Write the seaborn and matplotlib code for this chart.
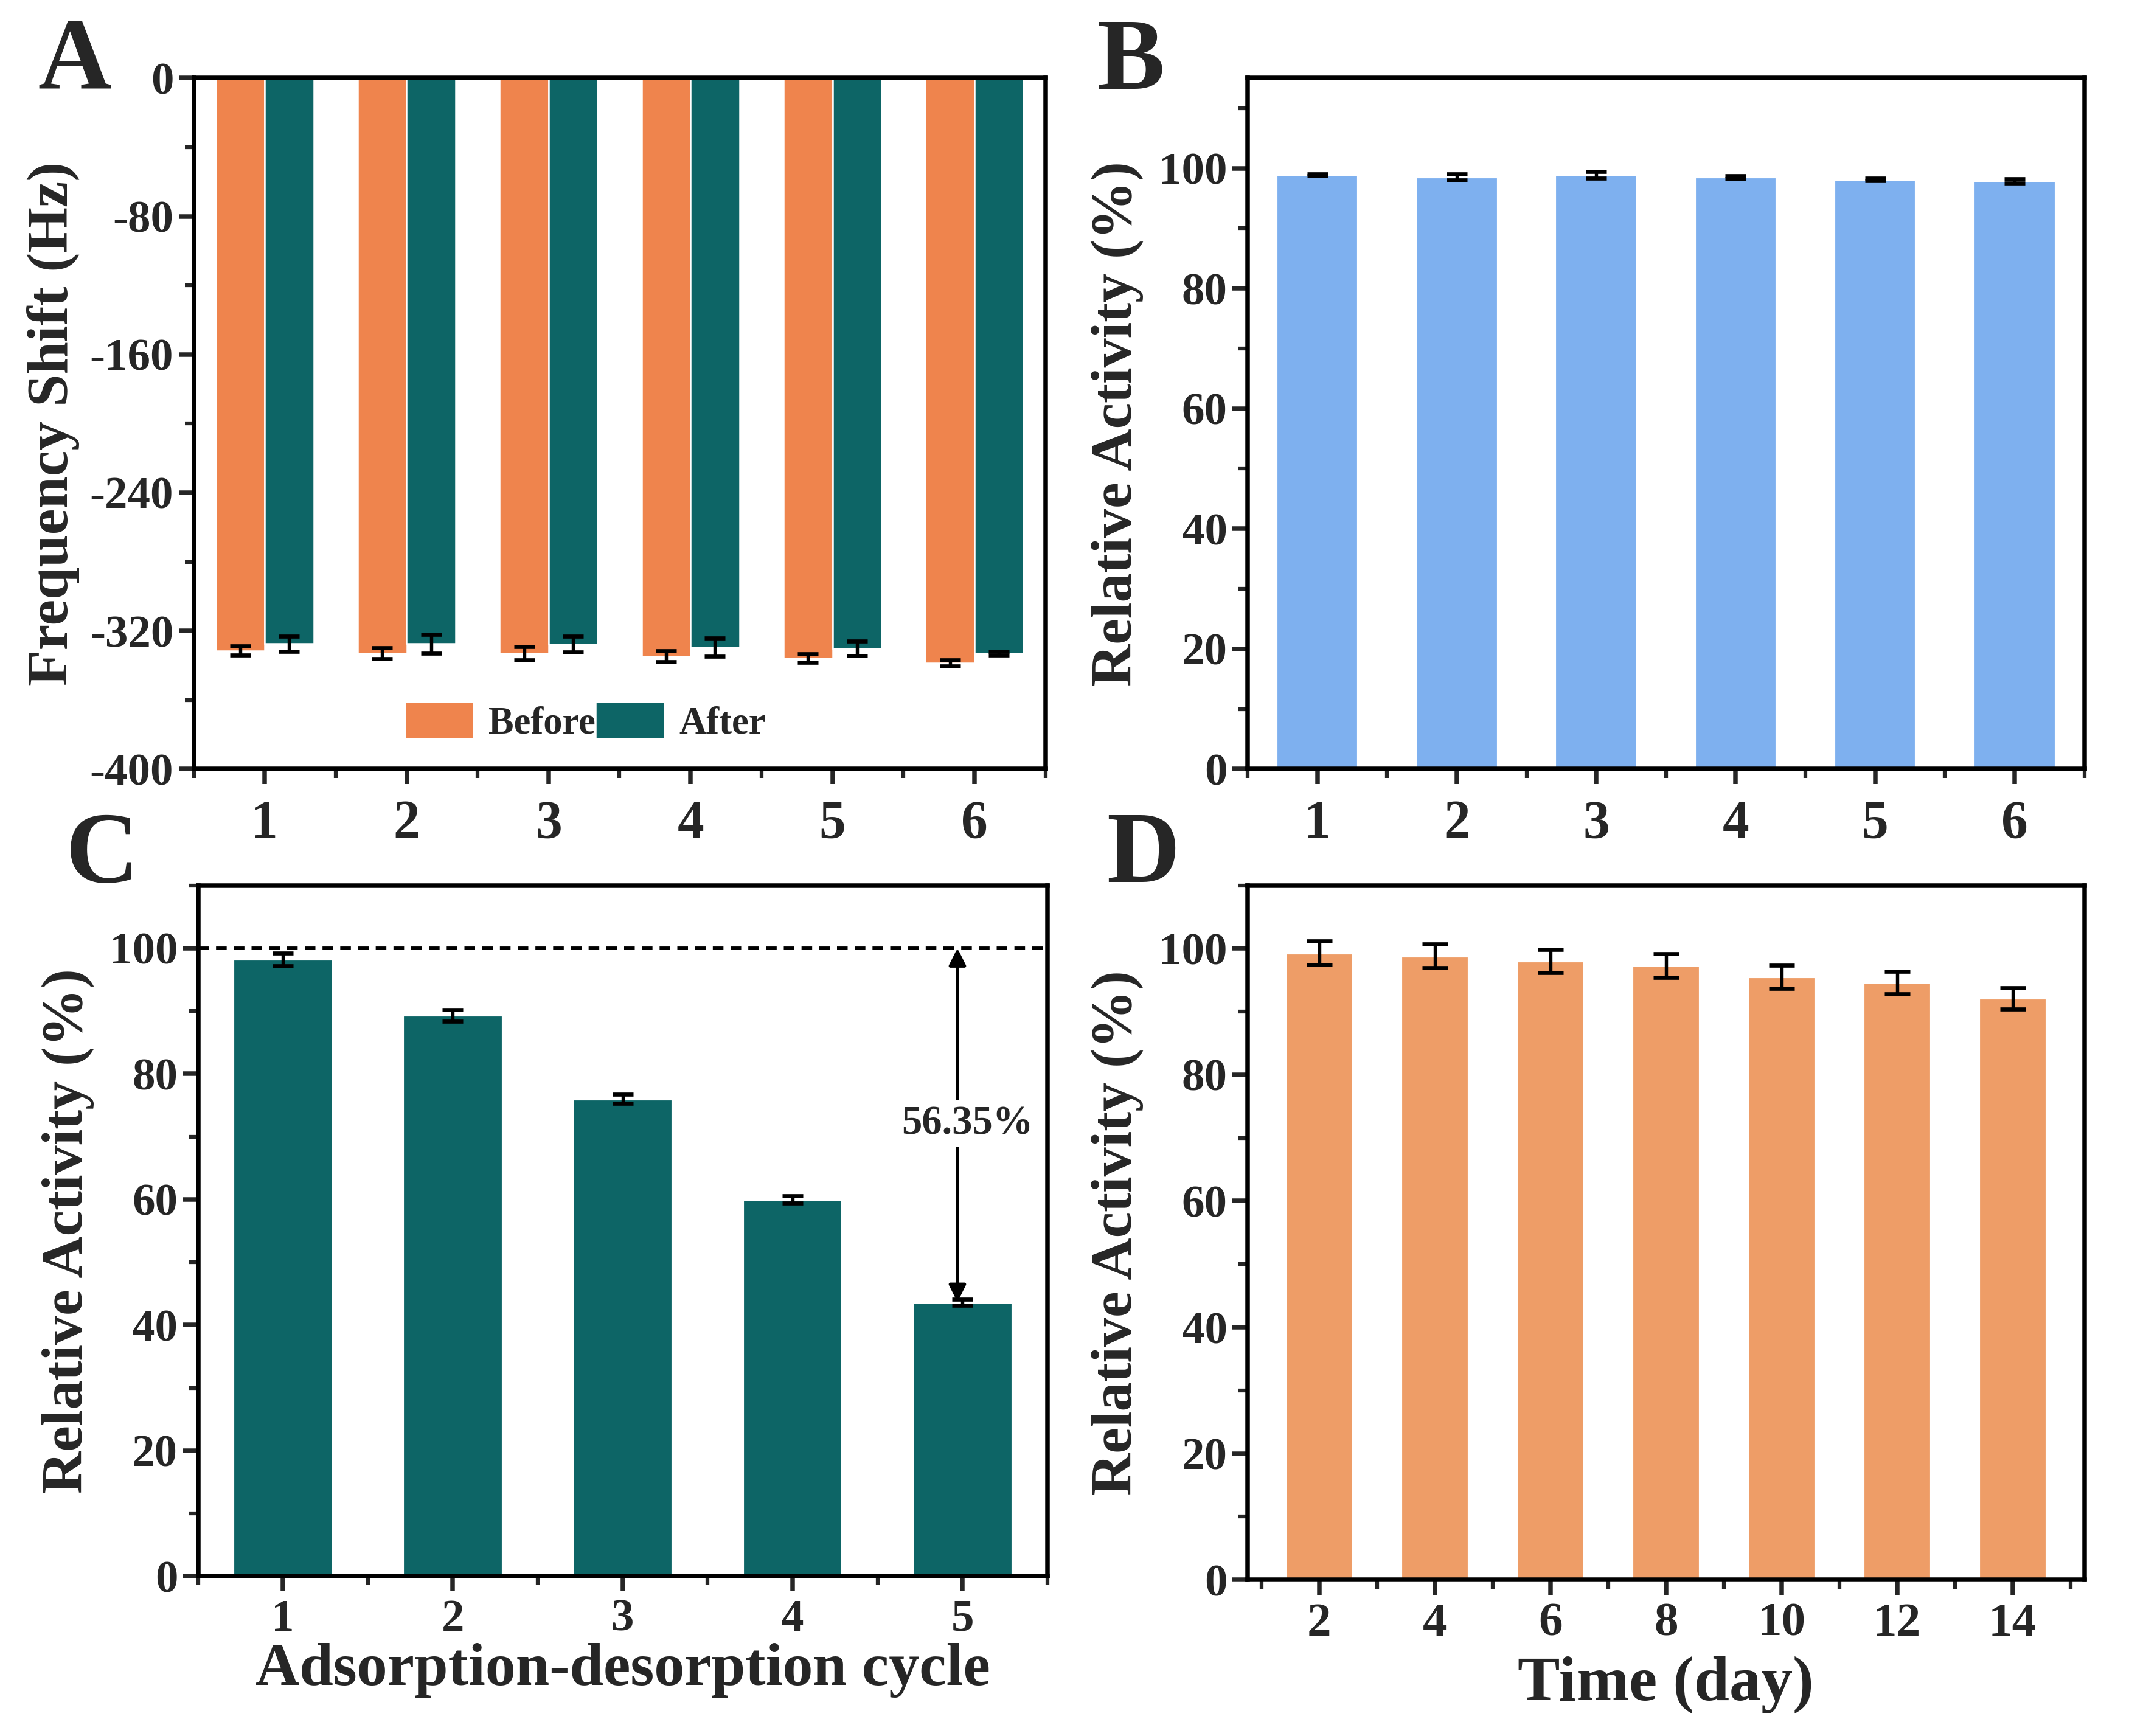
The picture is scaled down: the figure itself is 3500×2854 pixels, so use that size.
import pandas as pd
import matplotlib.pyplot as plt
import seaborn as sns
from matplotlib.ticker import MultipleLocator, FixedLocator

# ===== DATA =====
cycles_a = ["1", "2", "3", "4", "5", "6"]
before_a = [-331.5, -333.0, -333.0, -334.8, -335.7, -338.7]
before_err = [2.7, 3.2, 3.9, 3.1, 2.5, 1.7]
after_a = [-327.5, -327.5, -327.8, -329.5, -330.3, -333.0]
after_err = [4.5, 5.4, 4.6, 5.2, 4.2, 1.1]

batches_b = ["1", "2", "3", "4", "5", "6"]
activity_b = [98.9, 98.5, 98.9, 98.5, 98.1, 97.9]
err_b = [0.15, 0.5, 0.6, 0.25, 0.2, 0.35]

cycles_c = ["1", "2", "3", "4", "5"]
activity_c = [98.2, 89.3, 76.0, 60.0, 43.65]
err_c = [1.0, 0.9, 0.7, 0.6, 0.5]
loss_label = "56.35%"

days_d = ["2", "4", "6", "8", "10", "12", "14"]
activity_d = [99.3, 98.8, 98.0, 97.3, 95.5, 94.6, 92.1]
err_d = [1.9, 1.9, 1.8, 1.9, 1.8, 1.8, 1.7]

ORANGE = "#EF844D"
TEAL = "#0D6566"
BLUE = "#7EB0EF"
PEACH = "#EE9D67"

# ===== STYLE =====
sns.set_style("ticks")
plt.rcParams["font.family"] = ["Liberation Serif", "DejaVu Serif"]
plt.rcParams["font.weight"] = "bold"
plt.rcParams["axes.labelweight"] = "bold"
plt.rcParams["axes.linewidth"] = 1.8
plt.rcParams["axes.unicode_minus"] = False

fig = plt.figure(figsize=(3500 / 300, 2854 / 300), dpi=300)
ax_a = fig.add_axes([0.091, 0.557, 0.400, 0.398])
ax_b = fig.add_axes([0.586, 0.557, 0.393, 0.398])
ax_c = fig.add_axes([0.093, 0.092, 0.399, 0.398])
ax_d = fig.add_axes([0.586, 0.090, 0.393, 0.400])

ERR_KW = dict(fmt="none", ecolor="black", elinewidth=1.3, capthick=1.6, zorder=5)


def style_axis(ax, xlab_size):
    for s in ax.spines.values():
        s.set_linewidth(1.8)
        s.set_color("black")
    ax.tick_params(which="major", direction="out", length=6, width=1.8,
                   top=False, right=False)
    ax.tick_params(which="minor", direction="out", length=3.5, width=1.5,
                   top=False, right=False)
    ax.tick_params(axis="y", labelsize=18, pad=2)
    ax.tick_params(axis="x", labelsize=xlab_size)
    for lab in ax.get_xticklabels() + ax.get_yticklabels():
        lab.set_fontweight("bold")


def bar_centers(container):
    return [b.get_x() + b.get_width() / 2 for b in container]


# ===== A: frequency shift before / after =====
df_a = pd.DataFrame({
    "cycle": cycles_a * 2,
    "shift": before_a + after_a,
    "group": ["Before"] * len(cycles_a) + ["After"] * len(cycles_a),
})
sns.barplot(data=df_a, x="cycle", y="shift", hue="group", order=cycles_a,
            hue_order=["Before", "After"], palette=[ORANGE, TEAL], width=0.69,
            errorbar=None, edgecolor="white", linewidth=0.6, saturation=1, ax=ax_a)
for cont, vals, errs in zip(ax_a.containers, [before_a, after_a], [before_err, after_err]):
    ax_a.errorbar(bar_centers(cont), vals, yerr=errs, capsize=4, **ERR_KW)
ax_a.set_xlim(-0.5, 5.5)
ax_a.set_ylim(-400, 0)
ax_a.yaxis.set_major_locator(MultipleLocator(80))
ax_a.yaxis.set_minor_locator(MultipleLocator(40))
ax_a.xaxis.set_minor_locator(FixedLocator([-0.5, 0.5, 1.5, 2.5, 3.5, 4.5, 5.5]))
ax_a.set_xlabel("")
ax_a.set_ylabel("Frequency Shift (Hz)", fontsize=23, labelpad=4)
ax_a.legend(loc="lower center", bbox_to_anchor=(0.46, -0.01), ncol=2, frameon=False,
            handlelength=1.8, handleheight=1.1, handletextpad=0.4,
            columnspacing=0.0, prop={"weight": "bold", "size": 15})
style_axis(ax_a, 21)
ax_a.tick_params(axis="x", pad=6)

# ===== B: relative activity, batches =====
df_b = pd.DataFrame({"batch": batches_b, "activity": activity_b})
sns.barplot(data=df_b, x="batch", y="activity", order=batches_b, color=BLUE,
            width=0.59, errorbar=None, saturation=1, ax=ax_b)
ax_b.errorbar(bar_centers(ax_b.containers[0]), activity_b, yerr=err_b, capsize=4, **ERR_KW)
ax_b.set_xlim(-0.5, 5.5)
ax_b.set_ylim(0, 115)
ax_b.yaxis.set_major_locator(FixedLocator([0, 20, 40, 60, 80, 100]))
ax_b.yaxis.set_minor_locator(FixedLocator([10, 30, 50, 70, 90, 110]))
ax_b.xaxis.set_minor_locator(FixedLocator([-0.5, 0.5, 1.5, 2.5, 3.5, 4.5, 5.5]))
ax_b.set_xlabel("")
ax_b.set_ylabel("Relative Activity (%)", fontsize=23, labelpad=6)
style_axis(ax_b, 21)
ax_b.tick_params(axis="x", pad=6)

# ===== C: reuse cycles =====
df_c = pd.DataFrame({"cycle": cycles_c, "activity": activity_c})
sns.barplot(data=df_c, x="cycle", y="activity", order=cycles_c, color=TEAL,
            width=0.59, errorbar=None, saturation=1, ax=ax_c)
cx = bar_centers(ax_c.containers[0])
ax_c.errorbar(cx, activity_c, yerr=err_c, capsize=4, **ERR_KW)
ax_c.axhline(100, color="black", lw=1.4, ls=(0, (3, 2)), zorder=3)
arrow_x = cx[-1] - 0.03
ax_c.annotate("", xy=(arrow_x, activity_c[-1]), xytext=(arrow_x, 100),
              arrowprops=dict(arrowstyle="<|-|>", color="black", lw=1.3,
                              mutation_scale=14, shrinkA=0, shrinkB=0), zorder=6)
ax_c.text(arrow_x + 0.06, 72, loss_label, fontsize=16, fontweight="bold",
          ha="center", va="center", zorder=7,
          bbox=dict(facecolor="white", edgecolor="none", pad=2))
ax_c.set_xlim(-0.5, 4.5)
ax_c.set_ylim(0, 110)
ax_c.yaxis.set_major_locator(MultipleLocator(20))
ax_c.yaxis.set_minor_locator(MultipleLocator(10))
ax_c.xaxis.set_minor_locator(FixedLocator([-0.5, 0.5, 1.5, 2.5, 3.5, 4.5]))
ax_c.set_xlabel("Adsorption-desorption cycle", fontsize=24, labelpad=1)
ax_c.set_ylabel("Relative Activity (%)", fontsize=23, labelpad=6)
style_axis(ax_c, 18)
ax_c.tick_params(axis="x", pad=3)

# ===== D: storage time =====
df_d = pd.DataFrame({"day": days_d, "activity": activity_d})
sns.barplot(data=df_d, x="day", y="activity", order=days_d, color=PEACH,
            width=0.59, errorbar=None, saturation=1, ax=ax_d)
ax_d.errorbar(bar_centers(ax_d.containers[0]), activity_d, yerr=err_d, capsize=5, **ERR_KW)
ax_d.set_xlim(-0.62, 6.62)
ax_d.set_ylim(0, 110)
ax_d.yaxis.set_major_locator(MultipleLocator(20))
ax_d.yaxis.set_minor_locator(MultipleLocator(10))
ax_d.xaxis.set_minor_locator(FixedLocator([-0.5, 0.5, 1.5, 2.5, 3.5, 4.5, 5.5, 6.5]))
ax_d.set_xlabel("Time (day)", fontsize=25, labelpad=4)
ax_d.set_ylabel("Relative Activity (%)", fontsize=23, labelpad=6)
style_axis(ax_d, 19)
ax_d.tick_params(axis="x", pad=3)

# ===== panel letters =====
for letter, (x, y) in {"A": (0.035, 0.963), "B": (0.531, 0.963),
                       "C": (0.048, 0.506), "D": (0.537, 0.506)}.items():
    fig.text(x, y, letter, fontsize=40, fontweight="bold", ha="center", va="center")

fig.savefig("out.png", dpi=300)
